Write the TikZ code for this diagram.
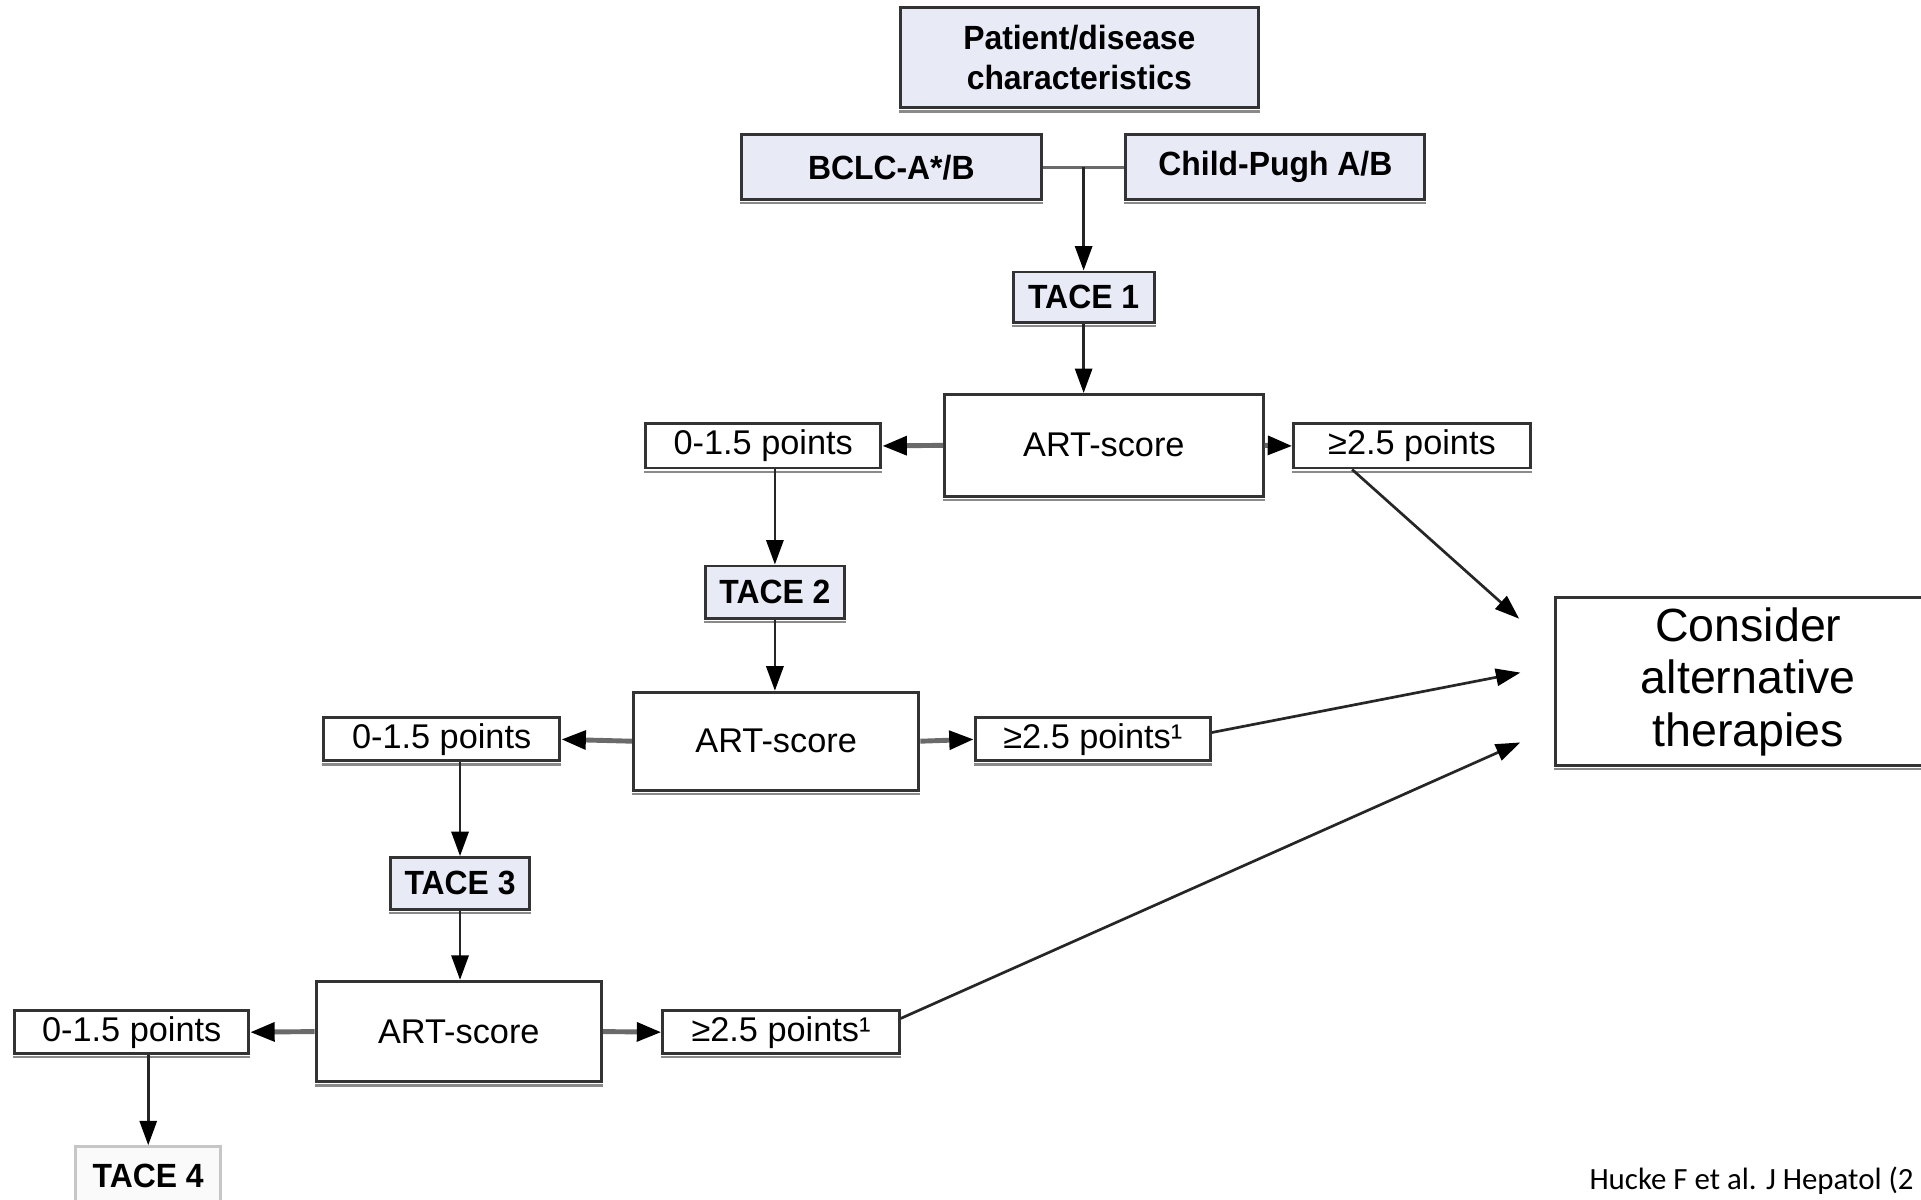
\documentclass[tikz,border=0pt]{standalone}
\usepackage{fontspec}
\setmainfont{Liberation Sans}
\newfontfamily\boldcond[FakeStretch=0.95]{Liberation Sans}
\newfontfamily\footfont{Carlito}
\usetikzlibrary{arrows.meta,calc}
\definecolor{lav}{HTML}{E8EAF6}
\definecolor{bline}{HTML}{333333}
\definecolor{shaft}{HTML}{6A6A6A}
\definecolor{shadowc}{HTML}{8A8A8A}
\begin{document}
\begin{tikzpicture}[x=0.5pt,y=-0.5pt,
  box/.style={draw=bline,line width=1.2pt,inner sep=0pt,align=center,fill=white,font=\fontsize{14}{16}\selectfont},
  hl/.style={box,fill=lav,font=\boldcond\bfseries\fontsize{13.7}{16.5}\selectfont},
  arr/.style={-{Triangle[length=10pt,width=7pt,color=black]},line width=1.1pt,draw=black!85},
  harr/.style={-{Triangle[length=10pt,width=7.5pt,color=black]},line width=2pt,draw=shaft}]
\clip (0,0) rectangle (1568,979);
\fill[white] (0,0) rectangle (1568,979);

\node[hl,minimum width=146pt,minimum height=41pt] (pat) at (881,47) {Patient/disease\\characteristics};
\node[hl,minimum width=122.5pt,minimum height=26.5pt] (bclc) at (727.5,136.5) {BCLC-A*/B};
\node[hl,minimum width=122pt,minimum height=26.5pt] (child) at (1041,136.5) {Child-Pugh A/B};
\node[hl,minimum width=57.5pt,minimum height=20.5pt] (tace1) at (884.5,242.5) {TACE 1};
\node[box,minimum width=130pt,minimum height=41.5pt] (art1) at (901,363.5) {ART-score};
\node[box,minimum width=96pt,minimum height=18pt] (low1) at (623,364) {0-1.5 points};
\node[box,minimum width=96.5pt,minimum height=18pt] (high1) at (1152.5,364) {≥2.5 points};
\node[hl,minimum width=56.5pt,minimum height=21.5pt] (tace2) at (632.5,483.5) {TACE 2};
\node[box,minimum width=116.5pt,minimum height=40pt] (art2) at (633.5,605) {ART-score};
\node[box,minimum width=96.5pt,minimum height=17.5pt] (low2) at (360.5,603.5) {0-1.5 points};
\node[box,minimum width=96pt,minimum height=17.5pt] (high2) at (892,603.5) {≥2.5 points¹};
\node[hl,minimum width=56.5pt,minimum height=21pt] (tace3) at (375.5,721) {TACE 3};
\node[box,minimum width=116.5pt,minimum height=41pt] (art3) at (374.5,842) {ART-score};
\node[box,minimum width=95.5pt,minimum height=17.5pt] (low3) at (107.5,842.5) {0-1.5 points};
\node[box,minimum width=96.5pt,minimum height=17.5pt] (high3) at (637.5,842.5) {≥2.5 points¹};
\node[hl,draw=gray!45,fill=gray!4,minimum width=59pt,minimum height=24pt] (tace4) at (121,960) {TACE 4};
\node[box,minimum width=157pt,minimum height=68.5pt,font=\fontsize{19}{21.5}\selectfont] (alt) at (1427,556.5) {Consider\\alternative\\therapies};
\node[anchor=base west,inner sep=0pt,font=\footfont\fontsize{12.6}{15}\selectfont] (cite) at (1297,971) {Hucke F et al. J Hepatol (2};

% soft shadow along the lower edge of the boxes
\foreach \n in {pat,bclc,child,tace1,art1,low1,high1,tace2,art2,low2,high2,tace3,art3,low3,high3,alt}
  \draw[shadowc,line width=0.9pt] ([yshift=-0.9pt]\n.south west) -- ([yshift=-0.9pt]\n.south east);

\coordinate (j) at ($(bclc.east)!0.5!(child.west)$);
\draw[line width=1.2pt,draw=shaft] (bclc.east) -- (child.west);
\draw[arr] (j) -- (j |- tace1.north);
\draw[arr] (tace1.south) -- (tace1.south |- art1.north);
\draw[harr] (art1.west) -- (low1.east);
\draw[harr] (art1.east) -- (high1.west);
\draw[arr] (low1.south -| tace2.north) -- (tace2.north);
\draw[arr] (tace2.south) -- (tace2.south |- art2.north);
\draw[harr] (art2.west) -- (low2.east);
\draw[harr] (art2.east) -- (high2.west);
\draw[arr] (low2.south -| tace3.north) -- (tace3.north);
\draw[arr] (tace3.south) -- (tace3.south |- art3.north);
\draw[harr] (art3.west) -- (low3.east);
\draw[harr] (art3.east) -- (high3.west);
\draw[arr] (low3.south -| tace4.north) -- (tace4.north);

\coordinate (e1) at (1240,505);
\coordinate (e2) at (1241,549);
\coordinate (e3) at (1241,606);
\draw[arr] ($(high1.south west)!0.25!(high1.south east)$) -- (e1);
\draw[arr] ($(high2.north east)!0.35!(high2.south east)$) -- (e2);
\draw[arr] ($(high3.north east)!0.2!(high3.south east)$) -- (e3);
\end{tikzpicture}
\end{document}
